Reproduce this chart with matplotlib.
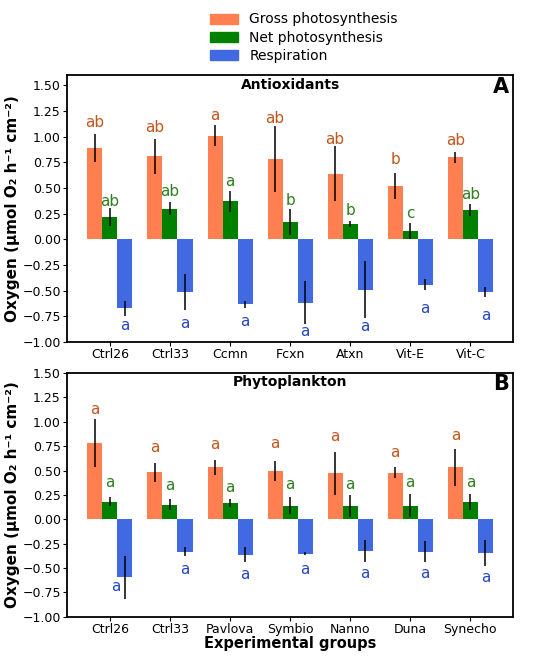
import numpy as np
import matplotlib
matplotlib.use("Agg")
import matplotlib.pyplot as plt
from matplotlib.patches import Patch

# Panel A - antioxidants
groups_A = ['Ctrl26', 'Ctrl33', 'Ccmn', 'Fcxn', 'Atxn', 'Vit-E', 'Vit-C']
gross_A = [0.89, 0.81, 1.01, 0.78, 0.64, 0.52, 0.80]
gross_err_A = [0.14, 0.17, 0.105, 0.32, 0.265, 0.13, 0.055]
net_A = [0.22, 0.30, 0.37, 0.17, 0.15, 0.08, 0.285]
net_err_A = [0.085, 0.065, 0.10, 0.125, 0.03, 0.077, 0.06]
resp_A = [-0.673, -0.51, -0.634, -0.615, -0.49, -0.443, -0.513]
resp_err_A = [0.07, 0.177, 0.03, 0.21, 0.275, 0.053, 0.052]
gross_let_A = ['ab', 'ab', 'a', 'ab', 'ab', 'b', 'ab']
net_let_A = ['ab', 'ab', 'a', 'b', 'b', 'c', 'ab']
resp_let_A = ['a'] * 7
gross_lbl_A = [1.14, 1.085, 1.206, 1.176, 0.977, 0.775, 0.964]
net_lbl_A = [0.366, 0.464, 0.559, 0.376, 0.284, 0.252, 0.438]
resp_lbl_A = [-0.843, -0.817, -0.804, -0.898, -0.853, -0.673, -0.739]

# Panel B - phytoplankton
groups_B = ['Ctrl26', 'Ctrl33', 'Pavlova', 'Symbio', 'Nanno', 'Duna', 'Synecho']
gross_B = [0.78, 0.483, 0.534, 0.497, 0.473, 0.476, 0.534]
gross_err_B = [0.245, 0.096, 0.075, 0.103, 0.22, 0.056, 0.19]
net_B = [0.18, 0.147, 0.168, 0.14, 0.14, 0.14, 0.18]
net_err_B = [0.045, 0.056, 0.04, 0.09, 0.113, 0.117, 0.082]
resp_B = [-0.596, -0.332, -0.363, -0.353, -0.329, -0.332, -0.346]
resp_err_B = [0.217, 0.046, 0.074, 0.017, 0.113, 0.108, 0.133]
gross_let_B = ['a'] * 7
net_let_B = ['a'] * 7
resp_let_B = ['a'] * 7
gross_lbl_B = [1.13, 0.74, 0.767, 0.774, 0.853, 0.68, 0.86]
net_lbl_B = [0.38, 0.346, 0.329, 0.353, 0.353, 0.373, 0.373]
resp_lbl_B = [-0.69, -0.517, -0.568, -0.517, -0.56, -0.56, -0.6]

series_names = ['Gross photosynthesis', 'Net photosynthesis', 'Respiration']
bar_colors = ['#FF7F50', '#008000', '#4169E1']
text_colors = ['#C4561C', '#2F7F1F', '#2747C2']

w = 0.25

fig = plt.figure(figsize=(5.5, 6.59), dpi=100)
axA = fig.add_axes([0.122, 0.481, 0.811, 0.405])
axB = fig.add_axes([0.122, 0.064, 0.811, 0.370])


def draw_panel(ax, groups, vals, errs, lets, lbls, title, tag, ymax,
               shift_first_resp=False):
    x = np.arange(len(groups))
    for k in range(3):
        xs = x + (k - 1) * w
        ax.bar(xs, vals[k], w, color=bar_colors[k], zorder=2)
        ax.errorbar(xs, vals[k], yerr=errs[k], fmt='none', ecolor='black',
                    elinewidth=1.1, capsize=0, zorder=3)
        for i, (xi, s, yl) in enumerate(zip(xs, lets[k], lbls[k])):
            # the label would sit on the long error bar, nudge it left
            if shift_first_resp and k == 2 and i == 0:
                xi -= 0.15
            ax.text(xi, yl, s, ha='center', va='center', fontsize=11,
                    color=text_colors[k], zorder=4)
    ax.set_ylim(-1.0, ymax)
    ax.set_yticks(np.arange(-1.0, 1.51, 0.25))
    ax.set_xticks(x)
    ax.set_xticklabels(groups)
    ax.tick_params(labelsize=9, length=3, pad=1.5)
    ax.set_ylabel('Oxygen (µmol O₂ h⁻¹ cm⁻²)', fontsize=11, fontweight='bold',
                  labelpad=2)
    ax.text(0.5, 0.962, title, transform=ax.transAxes, ha='center',
            va='center', fontsize=10, fontweight='bold')
    ax.text(0.99, 0.955, tag, transform=ax.transAxes, ha='right',
            va='center', fontsize=15, fontweight='bold')
    for sp in ax.spines.values():
        sp.set_linewidth(1.3)


draw_panel(axA, groups_A, [gross_A, net_A, resp_A],
           [gross_err_A, net_err_A, resp_err_A],
           [gross_let_A, net_let_A, resp_let_A],
           [gross_lbl_A, net_lbl_A, resp_lbl_A], 'Antioxidants', 'A', 1.6)
draw_panel(axB, groups_B, [gross_B, net_B, resp_B],
           [gross_err_B, net_err_B, resp_err_B],
           [gross_let_B, net_let_B, resp_let_B],
           [gross_lbl_B, net_lbl_B, resp_lbl_B], 'Phytoplankton', 'B', 1.5,
           shift_first_resp=True)
axB.set_xlabel('Experimental groups', fontsize=10.5, fontweight='bold',
               labelpad=0)

handles = [Patch(color=c, label=n) for c, n in zip(bar_colors, series_names)]
fig.legend(handles=handles, loc='upper center', bbox_to_anchor=(0.553, 1.0),
           frameon=False, fontsize=10, labelspacing=0.3, handlelength=2.0)

fig.savefig('out.png', dpi=100)
